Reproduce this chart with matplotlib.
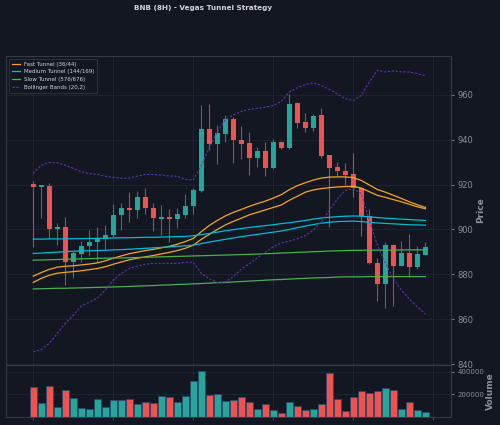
import numpy as np
import matplotlib.pyplot as plt

# candles (8H BNB)
opens = [920.2, 918.8, 919.4, 900.0, 901.0, 885.3, 889.1, 892.7, 894.3, 895.6,
         897.6, 906.4, 909.6, 908.5, 914.4, 909.6, 904.7, 905.5, 904.7, 906.5,
         910.4, 917.2, 944.6, 937.9, 942.5, 949.3, 939.9, 938.3, 931.6, 934.9,
         927.3, 938.8, 936.3, 956.1, 947.7, 945.1, 950.8, 933.1, 927.7, 926.2,
         924.5, 918.5, 906.1, 885.0, 875.8, 893.0, 883.8, 889.4, 883.4, 888.7]
closes = [918.7, 919.6, 900.0, 900.9, 885.3, 889.6, 892.7, 894.3, 895.7, 897.6,
          906.4, 909.5, 908.5, 914.4, 909.4, 904.9, 905.5, 904.7, 906.7, 910.5,
          917.4, 944.6, 937.9, 942.8, 949.3, 939.7, 938.1, 931.6, 934.9, 927.4,
          938.8, 936.3, 956.0, 947.4, 945.2, 950.6, 932.7, 927.5, 925.9, 924.1,
          918.4, 906.0, 884.9, 875.8, 893.0, 883.8, 889.4, 883.3, 889.0, 892.0]
highs = [921.5, 920.0, 920.9, 902.7, 905.5, 890.3, 894.8, 899.7, 900.9, 901.9,
         911.3, 911.6, 916.7, 917.2, 918.3, 912.0, 911.1, 908.9, 909.4, 916.0,
         918.3, 955.4, 955.7, 946.7, 950.9, 950.0, 946.1, 943.2, 936.5, 939.0,
         940.2, 939.5, 960.4, 956.8, 951.9, 951.4, 953.9, 933.2, 930.1, 929.7,
         933.9, 919.0, 908.9, 887.1, 894.3, 893.5, 894.7, 897.9, 892.6, 894.2]
lows = [892.3, 905.3, 896.0, 893.0, 875.2, 878.2, 885.6, 888.2, 885.6, 891.5,
        896.7, 899.7, 903.1, 905.2, 906.8, 899.2, 897.5, 894.2, 900.7, 905.2,
        906.8, 916.5, 935.6, 929.1, 938.8, 929.7, 931.2, 924.2, 927.6, 923.9,
        927.0, 936.0, 935.9, 945.4, 943.5, 944.0, 932.0, 901.2, 923.7, 919.8,
        914.5, 897.3, 884.5, 868.1, 865.1, 866.1, 883.5, 878.9, 882.4, 888.5]
volume = [269e3, 123e3, 272e3, 84e3, 242e3, 167e3, 81e3, 72e3, 159e3, 90e3,
          150e3, 147e3, 159e3, 114e3, 135e3, 123e3, 188e3, 173e3, 132e3, 182e3,
          320e3, 410e3, 195e3, 200e3, 141e3, 152e3, 177e3, 135e3, 69e3, 117e3,
          60e3, 30e3, 132e3, 99e3, 60e3, 66e3, 111e3, 386e3, 161e3, 54e3,
          177e3, 227e3, 215e3, 233e3, 257e3, 236e3, 69e3, 129e3, 60e3, 39e3]

# Vegas tunnels
fast_a = [879.2, 880.8, 882.2, 883.2, 883.6, 883.8, 884.2, 884.6, 885.1, 886.0,
          887.2, 888.2, 889.2, 889.9, 890.6, 891.1, 891.8, 892.5, 893.4, 894.6,
          896.0, 899.0, 901.8, 904.0, 906.0, 907.6, 908.9, 910.3, 911.5, 912.6,
          914.0, 915.5, 917.7, 919.5, 920.8, 922.0, 922.9, 923.3, 923.4, 923.4,
          923.1, 921.8, 919.8, 917.8, 916.6, 915.2, 913.8, 912.3, 911.0, 909.8]
fast_b = [876.4, 878.2, 879.6, 880.5, 880.9, 881.2, 881.6, 882.1, 882.6, 883.4,
          884.5, 885.5, 886.5, 887.2, 887.8, 888.4, 889.1, 889.8, 890.6, 891.6,
          893.0, 895.6, 897.8, 900.0, 902.0, 903.6, 905.0, 906.5, 907.6, 908.7,
          909.8, 910.9, 913.0, 914.8, 916.6, 917.6, 918.2, 918.6, 918.9, 919.1,
          919.2, 918.4, 916.8, 915.2, 914.3, 913.3, 912.3, 911.2, 910.1, 909.2]
med_a = [895.7, 895.7, 895.8, 895.8, 895.8, 895.9, 895.9, 896.0, 896.0, 896.1,
         896.2, 896.3, 896.3, 896.4, 896.5, 896.5, 896.6, 896.7, 896.8, 896.9,
         897.2, 897.7, 898.2, 898.8, 899.4, 899.9, 900.4, 900.9, 901.3, 901.7,
         902.1, 902.6, 903.0, 903.5, 904.0, 904.6, 905.1, 905.4, 905.7, 905.9,
         906.0, 905.9, 905.6, 905.3, 905.0, 904.8, 904.6, 904.4, 904.2, 904.0]
med_b = [889.3, 889.5, 889.7, 889.9, 890.1, 890.3, 890.4, 890.5, 890.6, 890.7,
         890.9, 891.0, 891.2, 891.4, 891.6, 891.8, 892.0, 892.2, 892.5, 892.7,
         893.0, 893.7, 894.4, 895.0, 895.6, 896.2, 896.8, 897.3, 897.8, 898.3,
         898.8, 899.3, 900.0, 900.8, 901.5, 902.2, 902.8, 903.2, 903.5, 903.6,
         903.7, 903.5, 903.2, 902.9, 902.7, 902.5, 902.3, 902.1, 902.0, 901.9]
slow_a = [886.3, 886.4, 886.5, 886.6, 886.7, 886.8, 886.9, 887.0, 887.1, 887.2,
          887.3, 887.3, 887.4, 887.5, 887.6, 887.7, 887.8, 887.9, 888.0, 888.1,
          888.2, 888.3, 888.4, 888.5, 888.6, 888.7, 888.8, 888.9, 889.0, 889.2,
          889.3, 889.5, 889.6, 889.8, 889.9, 890.1, 890.2, 890.4, 890.5, 890.6,
          890.7, 890.7, 890.8, 890.8, 890.8, 890.8, 890.9, 890.9, 890.9, 890.9]
slow_b = [873.5, 873.6, 873.7, 873.8, 873.8, 873.9, 874.0, 874.1, 874.2, 874.3,
          874.4, 874.5, 874.6, 874.8, 874.9, 875.0, 875.2, 875.3, 875.5, 875.6,
          875.8, 875.9, 876.1, 876.3, 876.4, 876.6, 876.8, 877.0, 877.2, 877.4,
          877.6, 877.7, 877.9, 878.1, 878.2, 878.4, 878.5, 878.6, 878.8, 878.9,
          878.9, 878.9, 879.0, 879.0, 879.0, 879.0, 879.0, 879.0, 879.0, 879.0]
bb_upper = [924.9, 928.6, 929.8, 929.7, 928.6, 927.2, 925.7, 924.9, 924.5, 923.7,
            923.2, 922.8, 922.9, 923.7, 924.5, 924.5, 924.2, 923.8, 923.7, 922.3,
            922.0, 928.5, 936.4, 943.5, 948.8, 950.9, 952.5, 953.5, 953.9, 954.5,
            955.2, 957.0, 961.2, 963.1, 964.5, 965.3, 964.1, 962.4, 960.4, 958.2,
            957.4, 959.7, 965.7, 970.9, 970.1, 970.6, 970.2, 970.1, 969.4, 968.5]
bb_lower = [845.5, 846.5, 849.2, 853.7, 858.1, 861.8, 865.8, 867.7, 869.3, 873.0,
            877.4, 880.4, 882.6, 883.7, 884.5, 884.9, 884.9, 884.9, 884.9, 885.4,
            885.4, 880.5, 878.0, 876.4, 876.6, 879.0, 882.4, 884.6, 887.4, 889.8,
            892.3, 894.0, 894.8, 895.8, 897.3, 899.6, 903.4, 908.5, 913.5, 917.5,
            918.2, 916.0, 904.0, 893.0, 885.0, 878.0, 873.0, 869.0, 865.5, 862.3]

bg = '#131722'
up_c = '#26a69a'
dn_c = '#ef5350'
txt_c = '#8c909a'

x = np.arange(len(opens))
o = np.array(opens)
c = np.array(closes)
up = c >= o
cols = np.where(up, up_c, dn_c)

fig = plt.figure(figsize=(5, 4.25), dpi=100, facecolor=bg)
ax = fig.add_axes([0.012, 0.141, 0.89, 0.727], facecolor=bg)
axv = fig.add_axes([0.012, 0.0195, 0.89, 0.1215], facecolor=bg, sharex=ax)

# candles
ax.vlines(x, lows, highs, colors=cols, linewidth=0.8, alpha=0.75, zorder=2)
body = np.where(np.abs(c - o) < 0.4, 0.4, c - o)
ax.bar(x, body, bottom=o, width=0.65, color=cols, zorder=3)

# tunnels + bands
ax.plot(x, fast_a, color='#f5a623', lw=0.9, label='Fast Tunnel (36/44)', zorder=4)
ax.plot(x, fast_b, color='#f5a623', lw=0.9, zorder=4)
ax.plot(x, med_a, color='#00bcd4', lw=0.9, label='Medium Tunnel (144/169)', zorder=4)
ax.plot(x, med_b, color='#00bcd4', lw=0.9, zorder=4)
ax.plot(x, slow_a, color='#4caf50', lw=0.9, label='Slow Tunnel (576/676)', zorder=4)
ax.plot(x, slow_b, color='#4caf50', lw=0.9, zorder=4)
ax.plot(x, bb_upper, color='#5e35b1', lw=0.8, ls=(0, (2, 1.5)), label='Bollinger Bands (20,2)', zorder=4)
ax.plot(x, bb_lower, color='#5e35b1', lw=0.8, ls=(0, (2, 1.5)), zorder=4)

ax.set_xlim(-3.4, 52.2)
ax.set_ylim(839.6, 977.2)
ax.set_xticks(np.arange(0, 51, 10))
ax.set_yticks(np.arange(840, 961, 20))
ax.yaxis.tick_right()
ax.yaxis.set_label_position('right')
ax.set_ylabel('Price', color=txt_c, fontsize=6.5, fontweight='bold', labelpad=2)
ax.tick_params(axis='y', colors=txt_c, labelsize=6, length=2.5, width=0.6, pad=2)
ax.tick_params(axis='x', labelbottom=False, length=0)
ax.grid(True, color='#222633', lw=0.6)
ax.set_axisbelow(True)

leg = ax.legend(loc='upper left', fontsize=4, facecolor=bg, edgecolor='#363a45',
                labelcolor='#d1d4dc', framealpha=0.9, borderpad=0.5, handlelength=1.5,
                bbox_to_anchor=(0.0, 1.0))
leg.get_frame().set_linewidth(0.6)

# volume
axv.bar(x, volume, width=0.9, color=cols, edgecolor='#2b4a6f', linewidth=0.6)
axv.set_ylim(0, 461e3)
axv.set_yticks([200000, 400000])
axv.yaxis.tick_right()
axv.yaxis.set_label_position('right')
axv.set_ylabel('Volume', color=txt_c, fontsize=6.5, fontweight='bold', labelpad=1)
axv.tick_params(axis='y', colors=txt_c, labelsize=5, length=2.5, width=0.6, pad=2)
axv.tick_params(axis='x', labelbottom=False, colors='#555a66', length=2.5, width=0.6)
axv.grid(True, color='#222633', lw=0.6)
axv.set_axisbelow(True)

for a in (ax, axv):
    for s in a.spines.values():
        s.set_color('#363a45')
        s.set_linewidth(0.8)

fig.text(0.406, 0.981, 'BNB (8H) - Vegas Tunnel Strategy', color='#d1d4dc',
         fontsize=5.2, fontweight='bold', ha='center', va='center')

fig.savefig('out.png', dpi=100, facecolor=bg)
